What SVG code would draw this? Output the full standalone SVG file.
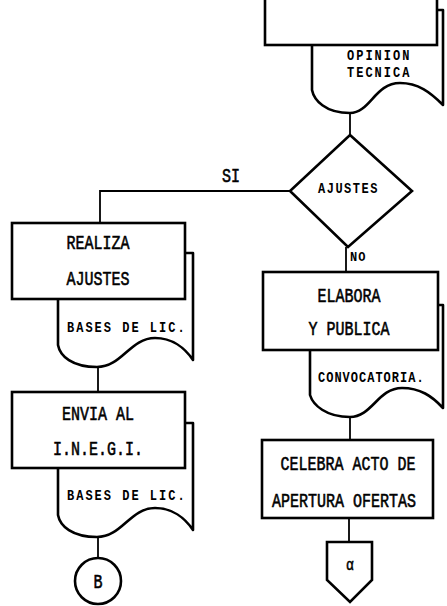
<svg xmlns="http://www.w3.org/2000/svg" width="447" height="606" viewBox="0 0 447 606">
<style>
.box{fill:#fff;stroke:#000;stroke-width:2.6}
.doc{fill:#fff;stroke:#000;stroke-width:2.6;stroke-linejoin:round}
.ln{fill:none;stroke:#000;stroke-width:1.8}
.t{font-family:"Liberation Mono","DejaVu Sans Mono",monospace;font-size:15px;fill:#000;stroke:#000;stroke-width:0.45;text-anchor:middle}
.s{font-family:"Liberation Mono","DejaVu Sans Mono",monospace;font-size:12px;letter-spacing:2px;fill:#000;text-anchor:start;font-weight:bold}
</style>
<rect width="447" height="606" fill="#fff"/>
<g id="connectors">
<line class="ln" x1="350" y1="113" x2="350" y2="135"/>
<polyline class="ln" points="290,191 100,191 100,223"/>
<line class="ln" x1="346" y1="247" x2="346" y2="272"/>
<line class="ln" x1="98" y1="367" x2="98" y2="392"/>
<line class="ln" x1="98" y1="537" x2="98" y2="558"/>
<line class="ln" x1="350" y1="417" x2="350" y2="440"/>
<line class="ln" x1="349" y1="518" x2="349" y2="542"/>
<text class="t" transform="translate(231,182) scale(1,1.3)">SI</text>
<text class="s" transform="translate(350,261) scale(1,1.1)" style="letter-spacing:1px">NO</text>
</g>
<g id="top-doc">
<path class="doc" d="M312,10 L443,10 L443,105 C430,92 418,83 400,83 C375,83 370,113 350,113 C325,113 314,100 312,90 Z"/>
<text class="s" transform="translate(347,60) scale(1,1.2)">OPINION</text>
<text class="s" transform="translate(347,77) scale(1,1.2)">TECNICA</text>
</g>
<g id="top-box">
<rect class="box" x="265" y="-10" width="172" height="55"/>
</g>
<g id="ajustes">
<polygon class="box" points="350,135 412,191 348,247 290,191"/>
<text class="s" transform="translate(318,193) scale(1,1.2)" style="letter-spacing:1.5px">AJUSTES</text>
</g>
<g id="realiza">
<path class="doc" d="M58,253 L193,253 L193,360 C185,348 172,338 155,338 C130,338 122,367 97,367 C72,367 60,356 58,345 Z"/>
<rect class="box" x="12" y="223" width="173" height="76"/>
<text class="t" transform="translate(98,249) scale(1,1.3)">REALIZA</text>
<text class="t" transform="translate(98,285) scale(1,1.3)">AJUSTES</text>
<text class="s" transform="translate(67,332) scale(1,1.2)">BASES DE LIC.</text>
</g>
<g id="envia">
<path class="doc" d="M58,423 L193,423 L193,530 C185,518 172,508 155,508 C130,508 122,537 97,537 C72,537 60,526 58,515 Z"/>
<rect class="box" x="12" y="392" width="173" height="76"/>
<text class="t" transform="translate(98,420) scale(1,1.3)">ENVIA AL</text>
<text class="t" transform="translate(98,455) scale(1,1.3)">I.N.E.G.I.</text>
<text class="s" transform="translate(67,500) scale(1,1.2)">BASES DE LIC.</text>
</g>
<g id="conector-b">
<circle class="box" cx="98" cy="581" r="23"/>
<text class="t" transform="translate(98,588) scale(1,1.3)">B</text>
</g>
<g id="elabora">
<path class="doc" d="M310,305 L443,305 L443,408 C432,396 420,388 402,388 C378,388 372,417 350,417 C326,417 313,405 310,395 Z"/>
<rect class="box" x="263" y="272" width="175" height="78"/>
<text class="t" transform="translate(349,302) scale(1,1.3)">ELABORA</text>
<text class="t" transform="translate(349,335) scale(1,1.3)">Y PUBLICA</text>
<text class="s" transform="translate(318,382) scale(1,1.2)" style="letter-spacing:1px">CONVOCATORIA.</text>
</g>
<g id="celebra">
<rect class="box" x="262" y="440" width="171" height="78"/>
<text class="t" transform="translate(348,470) scale(1,1.3)">CELEBRA ACTO DE</text>
<text class="t" transform="translate(344,507) scale(1,1.3)">APERTURA OFERTAS</text>
</g>
<g id="conector-pagina">
<polygon class="box" points="327,542 372,542 372,580 350,602 327,580"/>
<text class="t" transform="translate(350,570) scale(1,1.2)" style="font-size:13px">α</text>
</g>
</svg>
